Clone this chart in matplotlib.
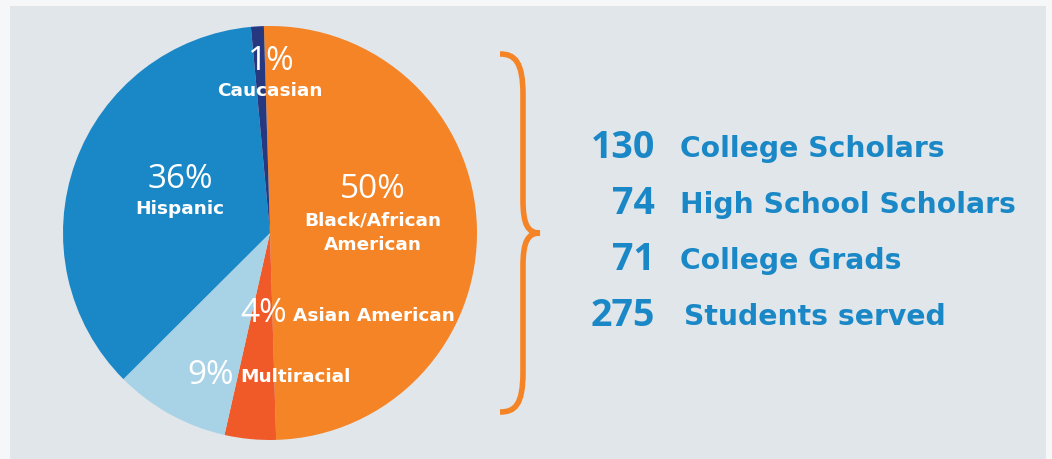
import matplotlib.pyplot as plt
from matplotlib.patches import Rectangle, PathPatch
from matplotlib.path import Path

groups = ["Black/African\nAmerican", "Asian American", "Multiracial", "Hispanic", "Caucasian"]
shares = [50, 4, 9, 36, 1]
colors = ["#f58426", "#f05a28", "#a8d2e6", "#1a88c6", "#253880"]

stat_values = ["130", "74", "71", "275"]
stat_labels = ["College Scholars", "High School Scholars", "College Grads", "Students served"]

W, H = 1052, 459
blue = "#1a88c6"
fam = ["Open Sans", "DejaVu Sans"]
wide = ["DejaVu Sans"]

fig = plt.figure(figsize=(W / 100, H / 100), dpi=100)
fig.set_facecolor("#f5f7f9")

# background panel, pixel coordinates
bg = fig.add_axes([0, 0, 1, 1])
bg.set_xlim(0, W)
bg.set_ylim(H, 0)
bg.axis("off")
bg.add_patch(Rectangle((10, 6), 1036, 460, facecolor="#e1e6ea", edgecolor="none"))

# pie
cx, cy, r = 270, 233, 207
pax = fig.add_axes([(cx - r) / W, (H - cy - r) / H, 2 * r / W, 2 * r / H])
pax.pie(shares, colors=colors, startangle=91.7, counterclock=False,
        wedgeprops=dict(linewidth=0))
pax.set_xlim(-1, 1)
pax.set_ylim(-1, 1)
pax.axis("off")

# text layer on top
tx = fig.add_axes([0, 0, 1, 1])
tx.set_xlim(0, W)
tx.set_ylim(H, 0)
tx.axis("off")
tx.patch.set_alpha(0)

pct = dict(color="white", fontsize=24, family=fam, fontweight="normal", ha="center", va="center")
lab = dict(color="white", fontsize=13.3, family=wide, fontweight="bold", ha="center", va="center")

tx.text(271, 61, f"{shares[4]}%", **pct)
tx.text(270, 91, groups[4], **lab)
tx.text(180, 179, f"{shares[3]}%", **pct)
tx.text(180, 209, groups[3], **lab)
tx.text(373, 189, f"{shares[0]}%", **pct)
tx.text(373, 233, groups[0], linespacing=1.45, **lab)
tx.text(264, 313, f"{shares[1]}%", **pct)
tx.text(293, 316, groups[1], **{**lab, "ha": "left"})
tx.text(211, 375, f"{shares[2]}%", **pct)
tx.text(240, 377, groups[2], **{**lab, "ha": "left"})

# brace
verts = [(500, 54), (515, 54), (523, 62), (523, 95),
         (523, 200),
         (523, 225), (528, 233), (540, 233),
         (528, 233), (523, 241), (523, 266),
         (523, 372),
         (523, 405), (515, 412), (500, 412)]
codes = [Path.MOVETO, Path.CURVE4, Path.CURVE4, Path.CURVE4,
         Path.LINETO,
         Path.CURVE4, Path.CURVE4, Path.CURVE4,
         Path.CURVE4, Path.CURVE4, Path.CURVE4,
         Path.LINETO,
         Path.CURVE4, Path.CURVE4, Path.CURVE4]
tx.add_patch(PathPatch(Path(verts, codes), facecolor="none", edgecolor="#f58426",
                       linewidth=4, capstyle="butt"))

# stats
rows_y = [148, 204, 260, 316]
for v, t, y in zip(stat_values, stat_labels, rows_y):
    tx.text(655, y, v, color=blue, fontsize=27, fontweight="bold", family=fam,
            ha="right", va="center")
    tx.text(680 if v != "275" else 684, y + 1, t, color=blue, fontsize=20.3,
            fontweight="bold", family=wide, ha="left", va="center")

fig.savefig("out.png", dpi=100, facecolor=fig.get_facecolor())
